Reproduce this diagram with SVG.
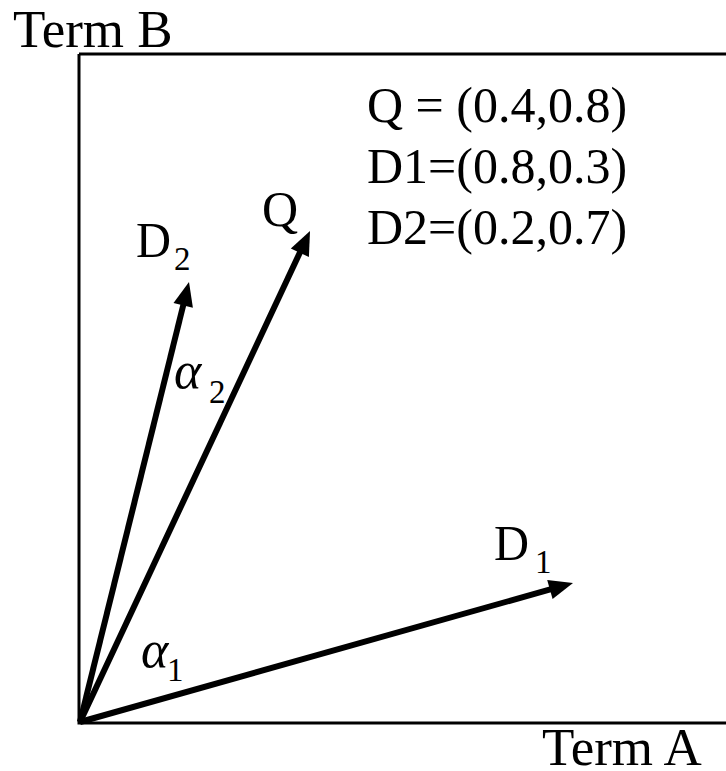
<svg xmlns="http://www.w3.org/2000/svg" width="726" height="771" viewBox="0 0 726 771">
<style>
text{font-family:"Liberation Serif","Times New Roman",serif;fill:#000;font-size:50px}
.term{font-size:53px}
.it{font-style:italic;font-size:52px}
.sub{font-size:33px}
.axis{stroke:#000;stroke-width:3;fill:none}
.vec{stroke:#000;stroke-width:6;fill:none}
.head{fill:#000;stroke:none}
</style>
<g id="axes">
<path class="axis" d="M79,54 L726,54 M79,54 L79,723 L726,723"/>
<text class="term" x="13" y="47">Term B</text>
<text class="term" x="542" y="765">Term A</text>
</g>
<g id="legend">
<text x="367" y="122">Q = (0.4,0.8)</text>
<text x="367" y="183">D1=(0.8,0.3)</text>
<text x="367" y="244">D2=(0.2,0.7)</text>
</g>
<g id="connectors">
<line class="vec" x1="80" y1="722" x2="553.8" y2="588.4"/>
<polygon class="head" points="573,583 552.6,599.1 547.2,579.9"/>
<line class="vec" x1="80" y1="722" x2="301.5" y2="249.1"/>
<polygon class="head" points="310,231 308.9,257.0 290.8,248.5"/>
<line class="vec" x1="80" y1="722" x2="184.2" y2="301.4"/>
<polygon class="head" points="189,282 192.9,307.7 173.5,302.9"/>
</g>
<g id="label-D1"><text x="494" y="560" font-size="52" textLength="35" lengthAdjust="spacingAndGlyphs">D</text><text class="sub" x="535" y="573">1</text></g>
<g id="label-Q"><text x="262" y="226">Q</text></g>
<g id="label-D2"><text x="136" y="257" font-size="52" textLength="35" lengthAdjust="spacingAndGlyphs">D</text><text class="sub" x="174" y="270">2</text></g>
<g id="label-a2"><text class="it" x="174" y="388">α</text><text class="sub" x="209" y="403">2</text></g>
<g id="label-a1"><text class="it" x="141" y="667">α</text><text class="sub" x="167" y="681">1</text></g>
</svg>
